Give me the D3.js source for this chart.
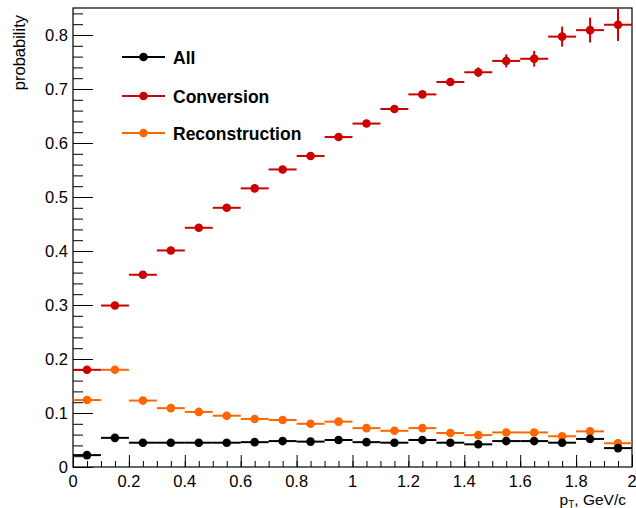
<!DOCTYPE html>
<html>
<head>
<meta charset="utf-8">
<script src="https://cdn.jsdelivr.net/npm/d3@7"></script>
<style>
  body { margin: 0; background: #fff; }
  svg { font-family: "Liberation Sans", Arial, Helvetica, sans-serif; }
</style>
</head>
<body>
<div id="vis"></div>
<script>
// bin centers (pT, GeV/c), bin width 0.1
const binCenters = [0.05, 0.15, 0.25, 0.35, 0.45, 0.55, 0.65, 0.75, 0.85, 0.95,
                    1.05, 1.15, 1.25, 1.35, 1.45, 1.55, 1.65, 1.75, 1.85, 1.95];
const binHalfWidth = 0.05;

const allValues = [0.022, 0.054, 0.045, 0.045, 0.045, 0.045, 0.046, 0.048, 0.047, 0.050,
                   0.046, 0.045, 0.050, 0.045, 0.042, 0.048, 0.048, 0.045, 0.052, 0.035];
const allErrors = [0.002, 0.002, 0.002, 0.002, 0.002, 0.002, 0.002, 0.002, 0.002, 0.002,
                   0.002, 0.002, 0.002, 0.002, 0.002, 0.002, 0.002, 0.002, 0.002, 0.003];

const convValues = [0.180, 0.299, 0.356, 0.401, 0.443, 0.480, 0.516, 0.551, 0.576, 0.611,
                    0.636, 0.663, 0.690, 0.713, 0.731, 0.752, 0.756, 0.797, 0.809, 0.819];
const convErrors = [0.003, 0.003, 0.003, 0.003, 0.004, 0.004, 0.004, 0.004, 0.005, 0.005,
                    0.005, 0.006, 0.006, 0.007, 0.009, 0.012, 0.0145, 0.0185, 0.023, 0.030];

const recoValues = [0.124, 0.180, 0.123, 0.109, 0.102, 0.095, 0.089, 0.087, 0.080, 0.084,
                    0.072, 0.067, 0.072, 0.063, 0.059, 0.064, 0.064, 0.057, 0.066, 0.044];
const recoErrors = [0.002, 0.002, 0.002, 0.002, 0.002, 0.002, 0.002, 0.002, 0.002, 0.002,
                    0.002, 0.002, 0.002, 0.002, 0.002, 0.002, 0.002, 0.002, 0.003, 0.003];

const seriesNames = ['All', 'Conversion', 'Reconstruction'];
const seriesColors = ['#000000', '#cc0000', '#ff6600'];

const xTicks = [0, 0.2, 0.4, 0.6, 0.8, 1, 1.2, 1.4, 1.6, 1.8, 2];
const yTicks = [0, 0.1, 0.2, 0.3, 0.4, 0.5, 0.6, 0.7, 0.8];

// Layout
const W = 636, H = 508;
const margin = { top: 8, right: 4, bottom: 41, left: 73 };
const width = W - margin.left - margin.right;
const height = H - margin.top - margin.bottom;

const svg = d3.select('#vis')
    .append('svg')
    .attr('width', W)
    .attr('height', H);

const g = svg.append('g')
    .attr('transform', `translate(${margin.left},${margin.top})`);

const xScale = d3.scaleLinear().domain([0, 2]).range([0, width]);
const yScale = d3.scaleLinear().domain([0, 0.85]).range([height, 0]);

// Minor ticks (drawn first so majors go on top)
const xMinor = d3.range(0, 2.0001, 0.05);
const yMinor = d3.range(0, 0.8501, 0.02);

g.append('g')
    .attr('transform', `translate(0,${height})`)
    .call(d3.axisTop(xScale).tickValues(xMinor).tickSize(6).tickFormat(''))
    .call(a => a.select('.domain').remove());

g.append('g')
    .call(d3.axisRight(yScale).tickValues(yMinor).tickSize(10).tickFormat(''))
    .call(a => a.select('.domain').remove());

// Major ticks, inside the frame
const xAxis = g.append('g')
    .attr('transform', `translate(0,${height})`)
    .call(d3.axisTop(xScale).tickValues(xTicks).tickSize(12).tickFormat(''));
xAxis.select('.domain').remove();

const yAxis = g.append('g')
    .call(d3.axisRight(yScale).tickValues(yTicks).tickSize(20).tickFormat(''));
yAxis.select('.domain').remove();

g.selectAll('.tick line').attr('stroke', '#000').attr('stroke-width', 1);

// Tick labels
g.append('g').selectAll('text')
    .data(xTicks)
    .enter()
    .append('text')
    .attr('x', d => xScale(d))
    .attr('y', height + 19.5)
    .attr('text-anchor', 'middle')
    .style('font-size', '16.5px')
    .text(d => d3.format('~g')(d));

g.append('g').selectAll('text')
    .data(yTicks)
    .enter()
    .append('text')
    .attr('x', -5)
    .attr('y', d => yScale(d) + 6)
    .attr('text-anchor', 'end')
    .style('font-size', '16.5px')
    .text(d => d3.format('~g')(d));

// Frame
g.append('rect')
    .attr('width', width)
    .attr('height', height)
    .attr('fill', 'none')
    .attr('stroke', '#000')
    .attr('stroke-width', 1.2);

// Axis titles
const xTitle = svg.append('text')
    .attr('x', 626)
    .attr('y', 504.5)
    .attr('text-anchor', 'end')
    .style('font-size', '15.5px');
xTitle.append('tspan').text('p');
xTitle.append('tspan').attr('dy', 3).style('font-size', '10px').text('T');
xTitle.append('tspan').attr('dy', -3).text(', GeV/c');

svg.append('text')
    .attr('transform', 'translate(25,15) rotate(-90)')
    .attr('text-anchor', 'end')
    .style('font-size', '16.5px')
    .text('probability');

// Data series
const series = [
    { name: 'Reconstruction', values: recoValues, errors: recoErrors, color: seriesColors[2] },
    { name: 'Conversion', values: convValues, errors: convErrors, color: seriesColors[1] },
    { name: 'All', values: allValues, errors: allErrors, color: seriesColors[0] }
];

series.forEach(s => {
    const pts = binCenters.map((x, i) => ({ x: x, y: s.values[i], e: s.errors[i] }));
    const sg = g.append('g').attr('class', 'series');

    sg.selectAll('.xerr')
        .data(pts)
        .enter()
        .append('line')
        .attr('x1', d => xScale(d.x - binHalfWidth))
        .attr('x2', d => xScale(Math.min(d.x + binHalfWidth, 2)))
        .attr('y1', d => yScale(d.y))
        .attr('y2', d => yScale(d.y))
        .attr('stroke', s.color)
        .attr('stroke-width', 2);

    sg.selectAll('.yerr')
        .data(pts)
        .enter()
        .append('line')
        .attr('x1', d => xScale(d.x))
        .attr('x2', d => xScale(d.x))
        .attr('y1', d => yScale(d.y - d.e))
        .attr('y2', d => yScale(d.y + d.e))
        .attr('stroke', s.color)
        .attr('stroke-width', 2);

    sg.selectAll('circle')
        .data(pts)
        .enter()
        .append('circle')
        .attr('cx', d => xScale(d.x))
        .attr('cy', d => yScale(d.y))
        .attr('r', 4.3)
        .attr('fill', s.color);
});

// Legend
const legendY = [57, 96, 133];
const legend = svg.append('g');
seriesNames.forEach((name, i) => {
    legend.append('line')
        .attr('x1', 122).attr('x2', 165)
        .attr('y1', legendY[i]).attr('y2', legendY[i])
        .attr('stroke', seriesColors[i])
        .attr('stroke-width', 2);
    legend.append('circle')
        .attr('cx', 143.5).attr('cy', legendY[i])
        .attr('r', 4.3)
        .attr('fill', seriesColors[i]);
    legend.append('text')
        .attr('x', 173)
        .attr('y', legendY[i] + 6.5)
        .style('font-size', '17.5px')
        .style('font-weight', 'bold')
        .text(name);
});
</script>
</body>
</html>
